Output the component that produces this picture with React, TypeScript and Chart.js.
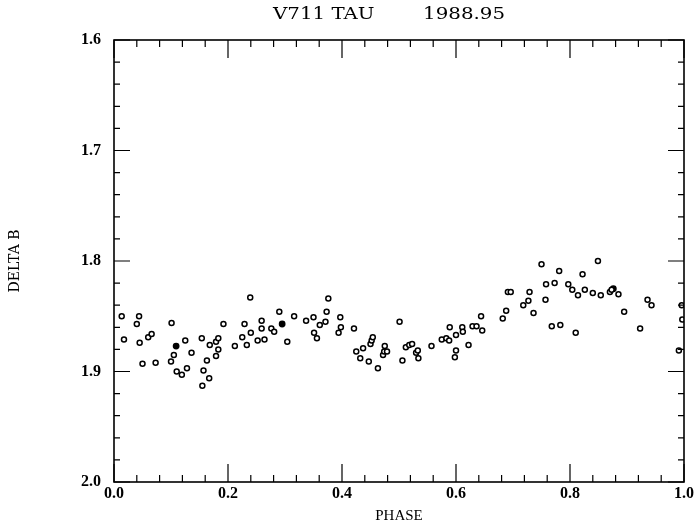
import React, { useEffect, useRef } from "react";
import { Chart, registerables } from "chart.js";

Chart.register(...registerables);

const TITLE_NAME = "V711 TAU";
const TITLE_EPOCH = "1988.95";
const X_LABEL = "PHASE";
const Y_LABEL = "DELTA B";

const phase = [
  0.0135, 0.0175, 0.04, 0.044, 0.045, 0.05, 0.06, 0.066, 0.073, 0.101, 0.105, 0.1, 0.11, 0.119, 0.125, 0.128, 0.136,
  0.154, 0.157, 0.155, 0.163, 0.167, 0.168, 0.179, 0.183, 0.183, 0.179, 0.192, 0.212, 0.225, 0.229, 0.233, 0.239,
  0.24, 0.252, 0.259, 0.259, 0.264, 0.276, 0.281, 0.29, 0.304, 0.316, 0.337, 0.35, 0.351, 0.356, 0.361, 0.371,
  0.373, 0.376, 0.397, 0.398, 0.394, 0.421, 0.425, 0.432, 0.437, 0.447, 0.45, 0.452, 0.454, 0.463, 0.472, 0.474,
  0.479, 0.475, 0.501, 0.506, 0.512, 0.518, 0.523, 0.53, 0.533, 0.534, 0.557, 0.575, 0.583, 0.588, 0.589, 0.6,
  0.6, 0.598, 0.611, 0.612, 0.622, 0.629, 0.636, 0.644, 0.646, 0.682, 0.688, 0.691, 0.696, 0.718, 0.727, 0.729,
  0.736, 0.75, 0.758, 0.757, 0.768, 0.773, 0.781, 0.783, 0.797, 0.804, 0.81, 0.814, 0.822, 0.826, 0.84, 0.849,
  0.854, 0.87, 0.873, 0.885, 0.895, 0.923, 0.936, 0.943, 0.996, 0.997, 0.991,
];
const deltaB = [
  1.85, 1.871, 1.857, 1.85, 1.874, 1.893, 1.869, 1.866, 1.892, 1.856, 1.885, 1.891, 1.9, 1.903, 1.872, 1.897, 1.883,
  1.87, 1.899, 1.913, 1.89, 1.906, 1.876, 1.873, 1.87, 1.88, 1.886, 1.857, 1.877, 1.869, 1.857, 1.876, 1.833,
  1.865, 1.872, 1.854, 1.861, 1.871, 1.861, 1.864, 1.846, 1.873, 1.85, 1.854, 1.851, 1.865, 1.87, 1.858, 1.855,
  1.846, 1.834, 1.851, 1.86, 1.865, 1.861, 1.882, 1.888, 1.879, 1.891, 1.875, 1.872, 1.869, 1.897, 1.885, 1.882,
  1.882, 1.877, 1.855, 1.89, 1.878, 1.876, 1.875, 1.883, 1.881, 1.888, 1.877, 1.871, 1.87, 1.872, 1.86, 1.867,
  1.881, 1.887, 1.86, 1.864, 1.876, 1.859, 1.859, 1.85, 1.863, 1.852, 1.845, 1.828, 1.828, 1.84, 1.836, 1.828,
  1.847, 1.803, 1.821, 1.835, 1.859, 1.82, 1.809, 1.858, 1.821, 1.826, 1.865, 1.831, 1.812, 1.826, 1.829, 1.8,
  1.831, 1.828, 1.826, 1.83, 1.846, 1.861, 1.835, 1.84, 1.84, 1.853, 1.881,
];
const filledPhase = [0.109, 0.295, 0.876];
const filledDeltaB = [1.877, 1.857, 1.825];

const xTicks = [0, 0.2, 0.4, 0.6, 0.8, 1.0];
const yTicks = [1.6, 1.7, 1.8, 1.9, 2.0];

const FONT = "'Liberation Serif', 'Times New Roman', serif";
const WIDE_FONT = "'DejaVu Serif', serif";

const framePlugin = {
  id: "frame",
  afterDatasetsDraw(chart: any) {
    const { ctx, chartArea, scales } = chart;
    const { left, right, top, bottom } = chartArea;
    ctx.save();
    ctx.strokeStyle = "#000";
    ctx.lineWidth = 1.6;
    ctx.strokeRect(left, top, right - left, bottom - top);
    ctx.lineWidth = 1.2;
    ctx.beginPath();
    for (let i = 0; i <= 25; i++) {
      const v = i * 0.04;
      const px = scales.x.getPixelForValue(v);
      const len = i % 5 === 0 ? 18 : 7;
      ctx.moveTo(px, bottom);
      ctx.lineTo(px, bottom - len);
      ctx.moveTo(px, top);
      ctx.lineTo(px, top + len);
    }
    for (let i = 0; i <= 20; i++) {
      const v = 1.6 + i * 0.02;
      const py = scales.y.getPixelForValue(v);
      const len = i % 5 === 0 ? 16 : 6;
      ctx.moveTo(left, py);
      ctx.lineTo(left + len, py);
      ctx.moveTo(right, py);
      ctx.lineTo(right - len, py);
    }
    ctx.stroke();
    ctx.restore();

    // title, drawn horizontally stretched like the original plot lettering
    ctx.save();
    ctx.fillStyle = "#000";
    ctx.font = `16.5px ${WIDE_FONT}`;
    ctx.textBaseline = "alphabetic";
    const sx = 1.2;
    ctx.scale(sx, 1);
    ctx.textAlign = "left";
    ctx.fillText(TITLE_NAME, 273 / sx, 19);
    ctx.textAlign = "right";
    ctx.fillText(TITLE_EPOCH, 505 / sx, 19);
    ctx.restore();
  },
};

export default function App() {
  const ref = useRef<HTMLCanvasElement>(null);
  useEffect(() => {
    const canvas = ref.current;
    if (!canvas) return;
    const chart = new Chart(canvas, {
      type: "scatter",
      data: {
        datasets: [
          {
            label: "open",
            data: phase.map((p, i) => ({ x: p, y: deltaB[i] })),
            pointStyle: "circle",
            pointRadius: 2.5,
            pointBorderWidth: 1.5,
            pointBorderColor: "#000",
            pointBackgroundColor: "#fff",
          },
          {
            label: "filled",
            data: filledPhase.map((p, i) => ({ x: p, y: filledDeltaB[i] })),
            pointStyle: "circle",
            pointRadius: 2.7,
            pointBorderWidth: 1.4,
            pointBorderColor: "#000",
            pointBackgroundColor: "#000",
          },
        ],
      },
      options: {
        animation: false,
        responsive: false,
        maintainAspectRatio: false,
        layout: { padding: { top: 40, left: 0, right: 16, bottom: 0 } },
        plugins: {
          legend: { display: false },
          tooltip: { enabled: false },
          title: { display: false },
        },
        scales: {
          x: {
            type: "linear",
            min: 0,
            max: 1,
            afterBuildTicks: (s: any) => {
              s.ticks = xTicks.map((v) => ({ value: v }));
            },
            afterFit: (s: any) => {
              s.height = 44;
            },
            ticks: {
              color: "#000",
              font: { family: FONT, size: 16, weight: "bold" },
              padding: 2,
              maxRotation: 0,
              callback: (v: any) => Number(v).toFixed(1),
            },
            grid: { display: false, drawTicks: false },
            border: { display: false },
            title: {
              display: true,
              text: X_LABEL,
              color: "#000",
              font: { family: FONT, size: 15 },
              padding: { top: 0, bottom: 1 },
            },
          },
          y: {
            type: "linear",
            reverse: true,
            min: 1.6,
            max: 2.0,
            afterBuildTicks: (s: any) => {
              s.ticks = yTicks.map((v) => ({ value: v }));
            },
            afterFit: (s: any) => {
              s.width = 114;
            },
            ticks: {
              color: "#000",
              font: { family: FONT, size: 16, weight: "bold" },
              padding: 13,
              callback: (v: any) => Number(v).toFixed(1),
            },
            grid: { display: false, drawTicks: false },
            border: { display: false },
            title: {
              display: true,
              text: Y_LABEL,
              color: "#000",
              font: { family: WIDE_FONT, size: 14 },
              padding: { top: 7, bottom: 0 },
            },
          },
        },
      },
      plugins: [framePlugin],
    });
    return () => chart.destroy();
  }, []);
  return (
    <div style={{ position: "fixed", left: 0, top: 0, width: 700, height: 526, background: "#fff" }}>
      <canvas ref={ref} width={700} height={526} />
    </div>
  );
}
